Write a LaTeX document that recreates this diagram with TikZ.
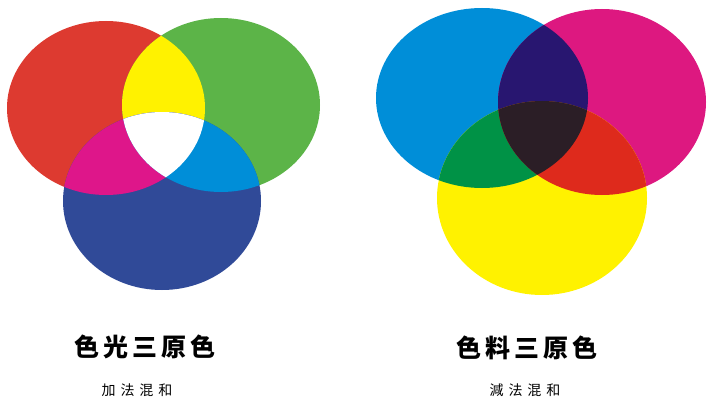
\documentclass[tikz,border=0pt]{standalone}
\usepackage{fontspec}
\newfontfamily\titlefont[LetterSpace=16]{Noto Sans CJK TC}
\newfontfamily\subfont[LetterSpace=35]{Noto Sans CJK TC}
\definecolor{lred}{RGB}{221,58,48}
\definecolor{lgreen}{RGB}{92,180,72}
\definecolor{lblue}{RGB}{48,74,152}
\definecolor{lyellow}{RGB}{255,242,0}
\definecolor{lmagenta}{RGB}{222,22,138}
\definecolor{lcyan}{RGB}{0,142,216}
\definecolor{rcyan}{RGB}{0,142,216}
\definecolor{rmagenta}{RGB}{221,24,128}
\definecolor{ryellow}{RGB}{255,242,0}
\definecolor{rviolet}{RGB}{40,22,112}
\definecolor{rgreen}{RGB}{0,146,70}
\definecolor{rred}{RGB}{222,42,28}
\definecolor{rdark}{RGB}{43,30,38}
\begin{document}
\begin{tikzpicture}[x=1pt,y=-1pt,
    title/.style={font=\titlefont\bfseries\fontsize{25}{25}\selectfont},
    subtitle/.style={font=\subfont\fontsize{14}{14}\selectfont}]
  \useasboundingbox (0,0) rectangle (708,401);
  % ellipses: additive
  \def\redE{(106,108) ellipse [x radius=99, y radius=87]}
  \def\greenE{(221,105) ellipse [x radius=99, y radius=87]}
  \def\blueE{(162,201) ellipse [x radius=99, y radius=89]}
  \fill[lred] \redE;
  \fill[lgreen] \greenE;
  \fill[lblue] \blueE;
  \begin{scope}\clip \redE; \fill[lyellow] \greenE; \fill[lmagenta] \blueE;\end{scope}
  \begin{scope}\clip \greenE; \fill[lcyan] \blueE;\end{scope}
  \begin{scope}\clip \redE; \clip \greenE; \fill[white] \blueE;\end{scope}
  % ellipses: subtractive
  \def\cyanE{(482,98) ellipse [x radius=106, y radius=90]}
  \def\magE{(602,102) ellipse [x radius=104, y radius=93]}
  \def\yelE{(542,198) ellipse [x radius=105, y radius=97]}
  \fill[rcyan] \cyanE;
  \fill[rmagenta] \magE;
  \fill[ryellow] \yelE;
  \begin{scope}\clip \cyanE; \fill[rviolet] \magE; \fill[rgreen] \yelE;\end{scope}
  \begin{scope}\clip \magE; \fill[rred] \yelE;\end{scope}
  \begin{scope}\clip \cyanE; \clip \magE; \fill[rdark] \yelE;\end{scope}
  % labels
  \node[title] (addtitle) at (145,347) {色光三原色};
  \node[subtitle] (addsub) at (137,390) {加法混和};
  \node[title] (subtitle) at (527,348) {色料三原色};
  \node[subtitle] (subsub) at (525,390) {減法混和};
\end{tikzpicture}
\end{document}
